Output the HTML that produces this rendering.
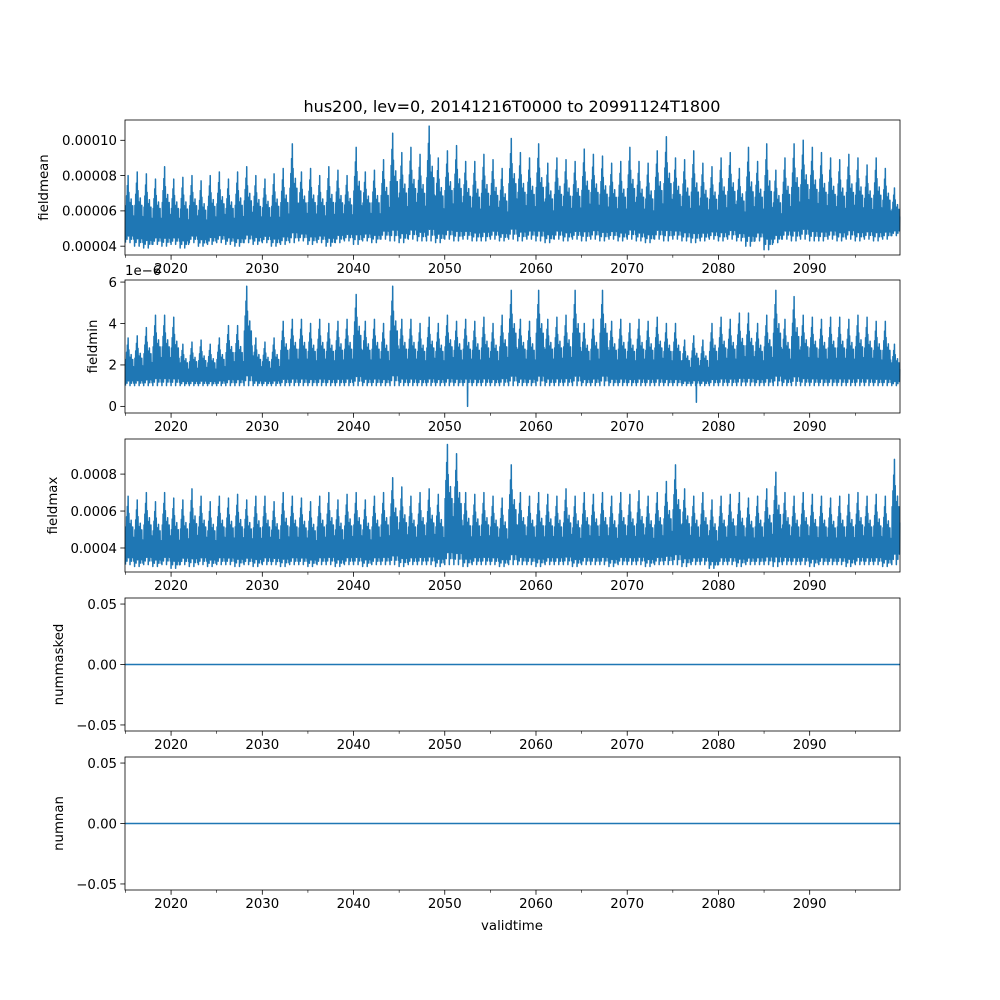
<!DOCTYPE html>
<html><head><meta charset="utf-8">
<style>
html,body{margin:0;padding:0;background:#fff;}
svg{display:block;font-family:"DejaVu Sans","Liberation Sans",sans-serif;}
</style></head>
<body>
<svg id="fig" width="1000" height="1000" viewBox="0 0 1000 1000">
<text x="512" y="112" font-size="16" text-anchor="middle">hus200, lev=0, 20141216T0000 to 20991124T1800</text>
<text x="512" y="930" font-size="13.3" text-anchor="middle">validtime</text>
</svg>
<script>
// ---- data (per year 2015..2099) ----
const years = [];
for (let y = 2015; y <= 2099; y++) years.push(y);
const meanPeaks = [8.0,8.2,8.1,7.8,8.5,7.8,7.9,8.0,7.7,8.0,8.2,7.8,8.2,8.5,8.0,7.8,8.1,8.4,9.8,8.2,8.4,8.0,8.5,8.3,8.0,9.6,8.2,8.3,8.9,10.4,9.3,9.6,9.2,10.8,9.0,9.4,9.7,8.8,8.8,9.2,8.9,8.4,10.1,9.3,9.0,9.8,8.7,9.0,8.9,8.8,9.5,9.2,9.1,8.7,8.8,9.6,8.8,8.7,9.4,10.2,9.0,8.9,9.4,8.7,8.5,9.0,9.3,8.4,9.6,8.8,9.8,8.3,9.0,9.8,10.0,9.6,9.3,9.0,8.9,9.2,9.0,8.6,9.0,8.4,7.3];
const meanLows = [4.2,4.0,3.9,4.1,4.0,4.1,3.9,4.2,4.0,4.1,4.2,4.1,4.0,4.2,4.1,4.2,4.0,4.1,4.2,4.3,4.1,4.2,4.0,4.2,4.3,4.1,4.3,4.2,4.4,4.3,4.2,4.4,4.3,4.3,4.2,4.4,4.3,4.4,4.3,4.3,4.4,4.3,4.4,4.3,4.4,4.3,4.2,4.4,4.3,4.4,4.3,4.4,4.3,4.4,4.3,4.4,4.3,4.2,4.4,4.3,4.4,4.3,4.2,4.3,4.4,4.3,4.4,4.3,4.0,4.3,3.8,4.2,4.4,4.3,4.4,4.3,4.3,4.4,4.3,4.4,4.3,4.4,4.3,4.4,4.6];
const minPeaks = [3.3,3.4,3.8,4.4,4.4,4.3,3.0,3.1,3.2,3.0,3.3,3.9,3.9,5.8,3.3,3.1,3.3,4.1,4.2,4.2,4.0,4.2,4.0,4.1,4.2,5.4,4.1,4.2,4.0,5.8,4.2,4.2,4.0,4.3,4.0,4.4,4.1,4.2,4.1,4.3,4.0,4.4,5.6,4.2,4.1,5.6,4.2,4.3,4.4,5.6,4.0,4.2,5.6,4.1,4.2,4.0,4.2,4.1,4.3,4.0,4.0,3.2,3.4,3.2,4.0,4.3,4.2,4.5,4.5,4.0,4.4,5.6,4.2,5.3,4.4,4.3,4.2,4.3,4.3,4.2,4.4,4.3,4.1,4.1,3.0];
const minBase = 1;
const minDipTimes = [2052.5, 2077.6];
const minDipValues = [0.0, 0.2];
const maxPeaks = [6.8,6.6,7.0,6.5,7.0,6.7,6.6,7.2,6.8,6.5,6.8,6.7,6.9,6.6,6.8,6.8,6.5,7.0,6.8,6.7,6.5,6.8,7.0,6.6,6.9,7.0,6.6,6.8,7.0,7.8,7.3,6.8,7.0,7.2,6.9,9.6,9.1,7.0,6.9,7.0,6.8,6.7,8.5,7.0,6.8,7.0,6.9,6.8,7.2,6.8,7.0,6.9,7.0,6.8,7.0,6.9,7.1,6.8,7.0,7.6,8.5,7.2,6.8,7.0,6.6,6.8,6.9,7.0,6.7,6.8,7.2,8.1,7.0,6.8,7.0,6.9,6.8,6.7,6.8,6.9,7.0,6.8,6.9,6.8,8.8];
const maxLows = [3.1,3.0,3.1,3.0,3.1,2.9,3.1,3.0,3.1,3.0,3.1,3.1,3.0,3.1,3.0,3.1,3.1,3.0,3.1,3.1,3.0,3.1,3.1,3.0,3.1,3.1,3.0,3.1,3.1,3.1,3.0,3.1,3.1,3.1,3.0,3.1,3.1,3.0,3.1,3.1,3.1,3.0,3.1,3.1,3.1,3.0,3.1,3.1,3.1,3.0,3.1,3.1,3.1,3.0,3.1,3.1,3.1,3.0,3.1,3.1,3.1,3.0,3.1,3.1,2.9,3.1,3.1,3.0,3.1,3.1,3.1,3.0,3.1,3.1,3.1,3.0,3.1,3.1,3.1,3.0,3.1,3.1,3.1,3.0,3.1];
const xTicks = [2020,2030,2040,2050,2060,2070,2080,2090];
const meanTicks = [4,6,8,10], meanTickLabels = ["0.00004","0.00006","0.00008","0.00010"];
const minTicks = [0,2,4,6], minTickLabels = ["0","2","4","6"];
const maxTicks = [4,6,8], maxTickLabels = ["0.0004","0.0006","0.0008"];
const zeroTicks = [-0.05,0,0.05], zeroTickLabels = ["\u22120.05","0.00","0.05"];

const NS = "http://www.w3.org/2000/svg";
const svg = document.getElementById('fig');
const X0 = 125, X1 = 900, T0 = 2014.95, T1 = 2099.9;
const xs = t => X0 + (t - T0) / (T1 - T0) * (X1 - X0);
const pattern = [0,0.55,0.1,0.7,0.05,0.85,0.15,1,0.1,0.75,0.2,0.6,0,0.5,0.15,0.65,0.05,0.45,0.2,0.55,0.1,0.4,0.05,0.3];

function el(tag, attrs, parent) {
  const e = document.createElementNS(NS, tag);
  for (const k in attrs) e.setAttribute(k, attrs[k]);
  (parent || svg).appendChild(e);
  return e;
}

function panel(name, top, bottom, yMin, yMax, yTicks, yLabels, ylabel, peaks, lows, flat, dips) {
  const g = el('g', {});
  
  
  const ys = v => bottom - (v - yMin) / (yMax - yMin) * (bottom - top);
  let pts = [];
  if (flat) {
    pts.push(xs(T0).toFixed(2) + ',' + ys(0).toFixed(2));
    pts.push(xs(T1).toFixed(2) + ',' + ys(0).toFixed(2));
  } else {
    years.forEach((yr, i) => {
      const lo = Array.isArray(lows) ? lows[i] : lows;
      pattern.forEach((p, j) => {
        const t = yr + j / pattern.length;
        if (t < T0 || t > T1) return;
        let v = lo + p * (peaks[i] - lo);
        if (dips) {
          dips.times.forEach((dt, k) => {
            if (Math.abs(dt - t) < 0.5 / pattern.length) v = dips.values[k];
          });
        }
        pts.push(xs(t).toFixed(2) + ',' + ys(v).toFixed(2));
      });
    });
  }
  const line = el('polyline', {points: pts.join(' '), fill: 'none', stroke: '#1f77b4', 'stroke-width': 1.5, 'stroke-linejoin': 'round'}, g);
  
  
  const fr = el('rect', {x: X0, y: top, width: X1 - X0, height: bottom - top, fill: 'none', stroke: '#000', 'stroke-width': 0.8}, g);
  
  
  for (let yr = 2015; yr <= 2099; yr += 5) {
    const major = yr % 10 === 0;
    el('line', {x1: xs(yr), x2: xs(yr), y1: bottom, y2: bottom + (major ? 4.7 : 2.7), stroke: '#000', 'stroke-width': major ? 0.8 : 0.6}, g);
  }
  xTicks.forEach(yr => {
    const t = el('text', {x: xs(yr), y: bottom + 18, 'font-size': 13.3, 'text-anchor': 'middle'}, g);
    t.textContent = yr;
    
    
  });
  yTicks.forEach((v, i) => {
    el('line', {x1: X0 - 4.7, x2: X0, y1: ys(v), y2: ys(v), stroke: '#000', 'stroke-width': 0.8}, g);
    const t = el('text', {x: X0 - 8, y: ys(v) + 4.8, 'font-size': 13.3, 'text-anchor': 'end'}, g);
    t.textContent = yLabels[i];
    
    
  });
  const lx = ylabel.x, ly = (top + bottom) / 2;
  const yl = el('text', {x: lx, y: ly, 'font-size': 13.3, 'text-anchor': 'middle', transform: 'rotate(-90 ' + lx + ' ' + ly + ')'}, g);
  yl.textContent = ylabel.text;
  
  
}

panel('fieldmean', 120, 255, 3.5, 11.15, meanTicks, meanTickLabels, {x: 48, text: 'fieldmean'}, meanPeaks, meanLows, false, null);
panel('fieldmin', 280, 413, -0.32, 6.1, minTicks, minTickLabels, {x: 97, text: 'fieldmin'}, minPeaks, minBase, false, {times: minDipTimes, values: minDipValues});
panel('fieldmax', 439, 572, 2.7, 9.9, maxTicks, maxTickLabels, {x: 57, text: 'fieldmax'}, maxPeaks, maxLows, false, null);
panel('nummasked', 598, 731, -0.055, 0.055, zeroTicks, zeroTickLabels, {x: 63, text: 'nummasked'}, null, null, true, null);
panel('numnan', 757, 890, -0.055, 0.055, zeroTicks, zeroTickLabels, {x: 63, text: 'numnan'}, null, null, true, null);

const off = el('text', {x: 125, y: 275, 'font-size': 13.3});
off.textContent = '1e\u22126';


</script>
</body></html>
